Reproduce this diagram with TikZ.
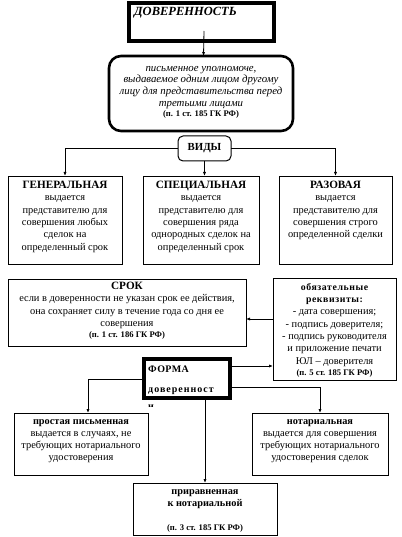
\documentclass[tikz,border=0pt]{standalone}
\usepackage{fontspec}
\setmainfont{Liberation Serif}
\usetikzlibrary{arrows.meta,calc}
\begin{document}
\begin{tikzpicture}[x=1pt,y=-1pt,
  box/.style={draw, line width=0.8pt, fill=white, inner sep=0pt, outer sep=0pt, anchor=north west},
  thickbox/.style={box, line width=4pt},
  txt/.style={align=center, inner sep=0pt, font=\fontsize{10.4}{12.3}\selectfont},
  arr/.style={line width=0.8pt, -{Latex[length=4pt,width=3.2pt]}},
]
\newcommand{\refb}[1]{{\fontsize{8.6}{12}\selectfont\bfseries #1}}
\newcommand{\ttlb}[1]{{\fontsize{10.3}{12.3}\selectfont\bfseries #1}}
\newcommand{\ttlc}[1]{{\fontsize{11.2}{12.3}\selectfont\bfseries #1}}
\useasboundingbox (0,0) rectangle (401,537);

% top box
\node[thickbox, minimum width=145pt, minimum height=38pt] (dov) at (129,3) {};
\node[anchor=base west, inner sep=0pt, font=\fontsize{12.5}{14}\selectfont\bfseries\itshape] (dovT) at (134,16) {ДОВЕРЕННОСТЬ};

% definition
\node[box, line width=2.6pt, rounded corners=12pt, minimum width=184pt, minimum height=75pt] (def) at (109,56) {};
\node[txt, anchor=north, font=\fontsize{10.8}{11.7}\selectfont\itshape] (defT) at ([yshift=-10pt]def.north)
  {письменное уполномоче,\\выдаваемое одним лицом другому\\лицу для представительства перед\\третьими лицами\\[-1.8pt]\refb{\upshape(п. 1 ст. 185 ГК РФ)}};
\draw[arr] ([xshift=2.5pt,yshift=10pt]dov.south) -- ([xshift=2.5pt]def.north);

% ВИДЫ
\node[box, line width=1pt, rounded corners=5pt, minimum width=53pt, minimum height=25pt] (vidy) at (178,136) {};
\node[inner sep=0pt, font=\fontsize{10.8}{12}\selectfont\bfseries] (vidyT) at (vidy.center) {ВИДЫ};

% three kinds
\node[box, minimum width=114pt, minimum height=88pt] (gen) at (8,176) {};
\node[box, minimum width=116pt, minimum height=88pt] (spec) at (143,176) {};
\node[box, minimum width=113pt, minimum height=88pt] (raz) at (279,176) {};
\node[txt, anchor=north] (genT) at ([yshift=-5pt]gen.north)
  {\ttlc{ГЕНЕРАЛЬНАЯ}\\выдается\\представителю для\\совершения любых\\сделок на\\определенный срок};
\node[txt, anchor=north] (specT) at ([yshift=-5pt]spec.north)
  {\ttlc{СПЕЦИАЛЬНАЯ}\\выдается\\представителю для\\совершения ряда\\однородных сделок на\\определенный срок};
\node[txt, anchor=north] (razT) at ([yshift=-5pt]raz.north)
  {\ttlc{РАЗОВАЯ}\\выдается\\представителю для\\совершения строго\\определенной сделки};
\draw[arr] (vidy.west) -| (gen.north);
\draw[arr] (vidy.east) -| (raz.north);
\draw[arr] (vidy.south) -- (vidy.south |- spec.north);

% СРОК and реквизиты
\node[box, minimum width=238pt, minimum height=67pt] (srok) at (8,279) {};
\node[txt, anchor=north] (srokT) at ([yshift=-3pt]srok.north)
  {\ttlc{СРОК}\\если в доверенности не указан срок ее действия,\\она сохраняет силу в течение года со дня ее\\совершения\\[-1pt]\refb{(п. 1 ст. 186 ГК РФ)}};
\node[box, minimum width=123pt, minimum height=102pt] (rekv) at (273,278) {};
\node[txt, anchor=north] (rekvT) at ([yshift=-5pt]rekv.north)
  {{\fontsize{9.8}{12}\selectfont\bfseries\addfontfeature{LetterSpace=6}обязательные}\\{\fontsize{9.8}{12}\selectfont\bfseries\addfontfeature{LetterSpace=6}реквизиты:}\\- дата совершения;\\- подпись доверителя;\\- подпись руководителя\\и приложение печати\\ЮЛ – доверителя\\[-1pt]\refb{(п. 5 ст. 185 ГК РФ)}};
\coordinate (r1) at ([yshift=10pt]rekv.west);
\draw[arr] (r1) -- (r1 -| srok.east);

% ФОРМА
\begin{scope}
  \clip (140,398) rectangle (160,406);
  \node[anchor=base west, inner sep=0pt, font=\fontsize{10}{12}\selectfont\bfseries] (formaI) at (148,409) {и};
\end{scope}
\node[thickbox, minimum width=86pt, minimum height=39pt] (forma) at (144,359) {};
\node[anchor=base west, inner sep=0pt, font=\fontsize{10}{12}\selectfont\bfseries\addfontfeature{LetterSpace=4}] (formaT1) at (148,372) {ФОРМА};
\node[anchor=base west, inner sep=0pt, font=\fontsize{10}{12}\selectfont\bfseries\addfontfeature{LetterSpace=10}] (formaT2) at (148,392) {доверенност};

\coordinate (f1) at ([yshift=12.5pt]forma.east);
\draw[arr] (f1) -- (f1 -| rekv.west);

% three forms
\node[box, minimum width=134pt, minimum height=62pt] (prost) at (14,413) {};
\node[box, minimum width=136pt, minimum height=62pt] (nota) at (252,413) {};
\node[box, minimum width=144pt, minimum height=52pt] (prir) at (133,483) {};
\node[txt, anchor=north] (prostT) at ([yshift=-6pt]prost.north)
  {\ttlb{простая письменная}\\выдается в случаях, не\\требующих нотариального\\удостоверения};
\node[txt, anchor=north] (notaT) at ([yshift=-6pt]nota.north)
  {\ttlb{нотариальная}\\выдается для совершения\\требующих нотариального\\удостоверения сделок};
\node[txt, anchor=north] (prirT) at ([yshift=-6pt]prir.north)
  {\ttlb{приравненная}\\\ttlb{к нотариальной}\\[12pt]\refb{(п. 3 ст. 185 ГК РФ)}};

\coordinate (f2) at ([yshift=-0.5pt]forma.west);
\draw[arr] (f2) -| ([xshift=7pt]prost.north);
\coordinate (f3) at ([yshift=-9pt]forma.east);
\draw[arr] (f3) -| (nota.north);
\draw[arr] (prir.north |- forma.south) -- (prir.north);
\end{tikzpicture}
\end{document}
